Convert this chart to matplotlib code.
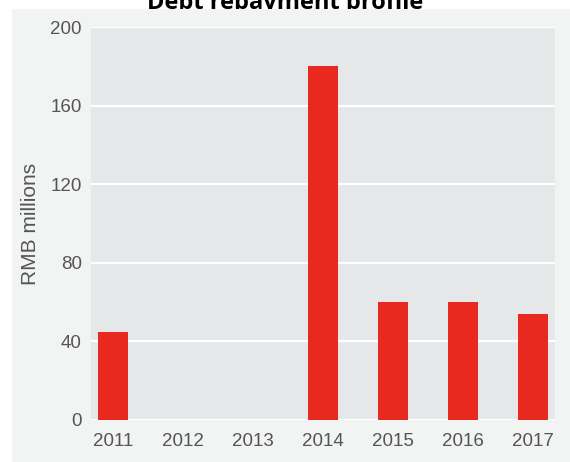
import matplotlib
matplotlib.use("Agg")
import matplotlib.pyplot as plt
from matplotlib.patches import Rectangle

years = ["2011", "2012", "2013", "2014", "2015", "2016", "2017"]
repayment = [45, 0, 0, 180, 60, 60, 54]
y_ticks = [0, 40, 80, 120, 160, 200]

BAR_RED = "#e8291f"
PANEL = "#e6e7e9"
OUTER = "#f2f3f3"
TEXT_GREY = "#555555"

plt.rcParams["font.family"] = ["Liberation Sans", "DejaVu Sans"]

fig = plt.figure(figsize=(5.7, 4.62), dpi=100)
fig.patch.set_facecolor("white")

# title sits behind the light backdrop, so only its lower part shows
fig.text(0.5, 1 - 9 / 462, "Debt repayment profile", ha="center",
         va="baseline", fontsize=17, fontweight="bold",
         family=["Open Sans", "DejaVu Sans"], color="black", zorder=-2)
fig.patches.append(Rectangle((12 / 570, 0), 1, 1 - 9 / 462,
                             transform=fig.transFigure, facecolor=OUTER,
                             edgecolor="none", zorder=-1))

ax = fig.add_axes([91 / 570, 1 - 420 / 462, (555 - 91) / 570, (420 - 27) / 462])
ax.set_facecolor(PANEL)
ax.set_axisbelow(True)

x = range(len(years))
ax.bar(x, repayment, width=0.43, color=BAR_RED, zorder=2)

ax.set_xlim(-0.32, 6.32)
ax.set_ylim(0, 200)
ax.set_yticks(y_ticks)
ax.set_xticks(list(x))
ax.set_xticklabels(years)
ax.grid(axis="y", color="white", linewidth=1.6)
ax.tick_params(axis="both", length=0, labelsize=13.5, labelcolor=TEXT_GREY)
ax.tick_params(axis="y", pad=6.5)
ax.tick_params(axis="x", pad=9)
for side in ax.spines.values():
    side.set_visible(False)

ax.set_ylabel("RMB millions", fontsize=15, color=TEXT_GREY, va="center")
ax.yaxis.set_label_coords(-61 / 464, 0.5)

fig.savefig("out.png", dpi=100, facecolor=fig.get_facecolor())
